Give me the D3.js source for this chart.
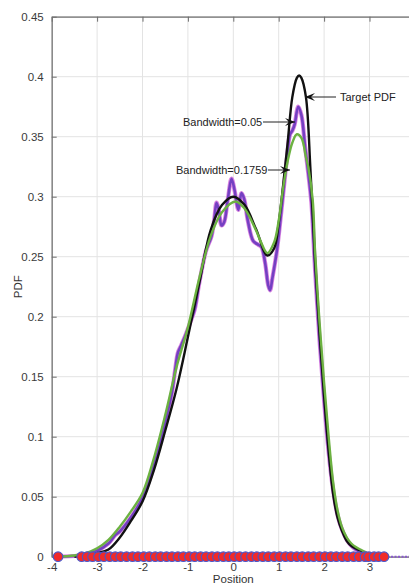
<!DOCTYPE html>
<html><head><meta charset="utf-8">
<script src="https://cdn.jsdelivr.net/npm/d3@7"></script>
<style>html,body{margin:0;padding:0;background:#fff;}svg{display:block;font-family:Arial,"Liberation Sans",sans-serif;}</style>
</head><body>
<svg id="chart" width="409" height="586"></svg>
<script>
const xTicks = [-4,-3,-2,-1,0,1,2,3,4];
const xTickLabels = ["-4","-3","-2","-1","0","1","2","3",""];
const yTicks = [0,0.05,0.1,0.15,0.2,0.25,0.3,0.35,0.4,0.45];
const yTickLabels = ["0","0.05","0.1","0.15","0.2","0.25","0.3","0.35","0.4","0.45"];

const targetX = [-3.5,-3.0,-2.75,-2.5,-2.25,-2.0,-1.75,-1.5,-1.25,-1.0,-0.75,-0.5,-0.25,0,0.25,0.5,0.75,0.9,1.0,1.1,1.2,1.3,1.4,1.45,1.5,1.6,1.7,1.8,1.9,2.0,2.1,2.2,2.3,2.4,2.5,2.6,2.8,3.0,3.2];
const targetY = [0,0.003,0.006,0.016,0.03,0.046,0.072,0.105,0.14,0.183,0.228,0.272,0.293,0.300,0.293,0.273,0.251,0.257,0.278,0.31,0.346,0.383,0.399,0.401,0.399,0.383,0.322,0.247,0.186,0.134,0.088,0.052,0.032,0.021,0.013,0.009,0.005,0.002,0];

const bw005X = [-3.9,-3.4,-3.0,-2.75,-2.6,-2.5,-2.25,-2.0,-1.75,-1.5,-1.35,-1.28,-1.22,-1.15,-1.05,-0.95,-0.85,-0.75,-0.6,-0.48,-0.42,-0.37,-0.32,-0.26,-0.2,-0.12,-0.04,0.03,0.11,0.18,0.24,0.32,0.44,0.55,0.62,0.7,0.77,0.81,0.86,0.96,1.05,1.12,1.19,1.25,1.3,1.35,1.43,1.5,1.58,1.65,1.72,1.8,1.9,2.0,2.1,2.2,2.3,2.4,2.5,2.6,2.7,2.8,3.0,3.3];
const bw005Y = [0,0.001,0.005,0.011,0.018,0.021,0.033,0.049,0.076,0.112,0.137,0.156,0.17,0.176,0.185,0.195,0.206,0.228,0.255,0.267,0.281,0.295,0.289,0.276,0.279,0.298,0.315,0.305,0.289,0.303,0.298,0.28,0.263,0.26,0.258,0.245,0.226,0.222,0.232,0.255,0.285,0.31,0.335,0.352,0.355,0.36,0.375,0.368,0.342,0.32,0.295,0.24,0.18,0.13,0.087,0.055,0.034,0.022,0.014,0.009,0.006,0.004,0.002,0];

const bw1759X = [-3.9,-3.5,-3.25,-3.0,-2.75,-2.5,-2.25,-2.0,-1.75,-1.5,-1.25,-1.0,-0.75,-0.5,-0.25,0.05,0.25,0.5,0.6,0.75,0.9,1.0,1.1,1.2,1.3,1.4,1.5,1.6,1.65,1.75,1.8,1.9,2.0,2.1,2.2,2.3,2.4,2.5,2.6,2.7,2.8,2.9,3.0,3.2];
const bw1759Y = [0,0.001,0.003,0.007,0.014,0.025,0.038,0.053,0.082,0.118,0.158,0.191,0.232,0.267,0.287,0.296,0.29,0.272,0.263,0.253,0.262,0.28,0.308,0.33,0.345,0.352,0.349,0.333,0.325,0.297,0.255,0.195,0.145,0.1,0.062,0.038,0.024,0.016,0.011,0.008,0.006,0.004,0.002,0];

const samples = [-3.86,-3.34,-3.22,-3.1,-2.97,-2.85,-2.72,-2.6,-2.48,-2.35,-2.22,-2.1,-1.97,-1.85,-1.72,-1.6,-1.47,-1.35,-1.22,-1.1,-0.97,-0.85,-0.72,-0.6,-0.47,-0.35,-0.22,-0.1,0.02,0.14,0.27,0.4,0.52,0.65,0.77,0.9,1.02,1.15,1.27,1.4,1.52,1.65,1.77,1.9,2.02,2.15,2.27,2.4,2.52,2.65,2.77,2.9,2.98,3.1,3.2,3.32];

const annotations = [
  {text:"Target PDF", tx:340, ty:97, x0:336, x1:305},
  {text:"Bandwidth=0.05", tx:183, ty:122, x0:263, x1:295},
  {text:"Bandwidth=0.1759", tx:176, ty:170, x0:268, x1:290}
];

const svg = d3.select("#chart");
const x = d3.scaleLinear().domain([-4,4]).range([51.7, 414.9]);
const y = d3.scaleLinear().domain([0,0.45]).range([556.7, 16.7]);

// grid
svg.append("g").selectAll("line").data(xTicks).join("line")
  .attr("x1",d=>x(d)).attr("x2",d=>x(d)).attr("y1",y(0)).attr("y2",y(0.45))
  .attr("stroke","#e3e3e3").attr("stroke-width",1);
svg.append("g").selectAll("line").data(yTicks).join("line")
  .attr("x1",x(-4)).attr("x2",x(4)).attr("y1",d=>y(d)).attr("y2",d=>y(d))
  .attr("stroke","#e3e3e3").attr("stroke-width",1);

// axes
const axL = d3.axisLeft(y).tickValues(yTicks).tickFormat((d,i)=>yTickLabels[i]).tickSizeInner(-5).tickSizeOuter(0).tickPadding(8);
const gL = svg.append("g").attr("transform",`translate(${x(-4)},0)`).call(axL);
const axB = d3.axisBottom(x).tickValues(xTicks).tickFormat((d,i)=>xTickLabels[i]).tickSizeInner(-5).tickSizeOuter(0).tickPadding(6);
const gB = svg.append("g").attr("transform",`translate(0,${y(0)})`).call(axB);
const axT = d3.axisTop(x).tickValues(xTicks).tickFormat("").tickSizeInner(-5).tickSizeOuter(0);
const gT = svg.append("g").attr("transform",`translate(0,${y(0.45)})`).call(axT);
[gL,gB,gT].forEach(g=>{
  g.select(".domain").attr("stroke","#6e6e6e").attr("stroke-width",1.2);
  g.selectAll(".tick line").attr("stroke","#6e6e6e");
  g.selectAll("text").attr("fill","#3a3a3a").attr("font-size",11.5).attr("font-family","Arial, 'Liberation Sans', sans-serif");
});

// axis labels
svg.append("text").attr("x",x(0)).attr("y",583).attr("text-anchor","middle")
  .attr("font-size",11.5).attr("fill","#333").text("Position");
svg.append("text").attr("transform",`translate(22,${(y(0)+y(0.45))/2}) rotate(-90)`)
  .attr("text-anchor","middle").attr("font-size",11.5).attr("fill","#333").text("PDF");

const line = d3.line().x(d=>x(d[0])).y(d=>y(d[1])).curve(d3.curveCatmullRom.alpha(0.5));
const zip = (a,b)=>a.map((v,i)=>[v,b[i]]);

// baseline segments
svg.append("line").attr("x1",x(-3.86)).attr("x2",x(-3.34)).attr("y1",y(0)).attr("y2",y(0))
  .attr("stroke","#f08a3c").attr("stroke-width",2);
svg.append("line").attr("x1",x(3.32)).attr("x2",x(4)).attr("y1",y(0)).attr("y2",y(0))
  .attr("stroke","#8a5ad0").attr("stroke-width",2).attr("stroke-dasharray","2,1.5");

// curves
svg.append("path").attr("d",line(zip(bw005X,bw005Y))).attr("fill","none")
  .attr("stroke","#d983e0").attr("stroke-width",4.2).attr("stroke-linejoin","round");
svg.append("path").attr("d",line(zip(bw005X,bw005Y))).attr("fill","none")
  .attr("stroke","#7440c2").attr("stroke-width",2.6).attr("stroke-linejoin","round");
svg.append("path").attr("d",line(zip(targetX,targetY))).attr("fill","none")
  .attr("stroke","#111").attr("stroke-width",2.4).attr("stroke-linejoin","round");
svg.append("path").attr("d",line(zip(bw1759X,bw1759Y))).attr("fill","none")
  .attr("stroke","#6cb241").attr("stroke-width",2.4).attr("stroke-linejoin","round");

// samples band + markers
svg.append("line").attr("x1",x(-3.34)).attr("x2",x(3.32)).attr("y1",y(0)).attr("y2",y(0))
  .attr("stroke","#4a55c8").attr("stroke-width",5);
svg.append("g").selectAll("circle").data(samples).join("circle")
  .attr("cx",d=>x(d)).attr("cy",y(0)).attr("r",4.8)
  .attr("fill","#f02a2a").attr("stroke","#4a55c8").attr("stroke-width",1.1);

// annotations
const ann = svg.append("g");
annotations.forEach(a=>{
  ann.append("text").attr("x",a.tx).attr("y",a.ty+4).attr("font-size",11).attr("fill","#222").text(a.text);
  ann.append("line").attr("x1",a.x0).attr("x2",a.x1).attr("y1",a.ty).attr("y2",a.ty)
    .attr("stroke","#222").attr("stroke-width",1);
  const dir = a.x1 < a.x0 ? 1 : -1;
  const tip = a.x1, back = a.x1 + dir*10;
  ann.append("path")
    .attr("d",`M${tip},${a.ty} L${back},${a.ty-4} L${tip+dir*6},${a.ty} L${back},${a.ty+4} Z`)
    .attr("fill","#111");
});
</script>
</body></html>
